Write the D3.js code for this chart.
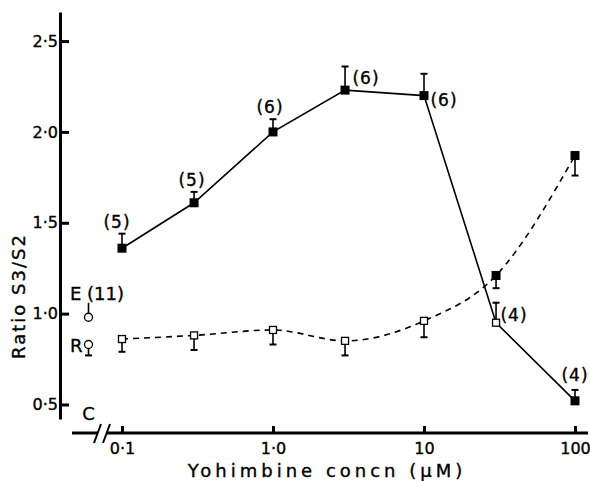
<!DOCTYPE html>
<html>
<head>
<meta charset="utf-8">
<script src="https://cdn.jsdelivr.net/npm/d3@7"></script>
<style>
  body { margin: 0; background: #fff; }
  text { font-family: "DejaVu Sans", sans-serif; fill: #000; stroke: #000; stroke-width: 0.35px; }
</style>
</head>
<body>
<svg id="chart"></svg>
<script>
// yohimbine concentration (µM)
const concn = [0.1, 0.3, 1, 3, 10, 30, 100];

// solid line series
const solidVals = [1.36, 1.61, 2.00, 2.23, 2.20, 0.95, 0.52];
const solidErr  = [0.08, 0.06, 0.07, 0.13, 0.12, 0.11, 0.06];
const solidFilled = [true, true, true, true, true, false, true];
const solidN = ["(5)", "(5)", "(6)", "(6)", "(6)", "(4)", "(4)"];

// dashed line series (error bars point down)
const dashVals = [0.86, 0.88, 0.91, 0.85, 0.96, 1.21, 1.87];
const dashErr  = [0.07, 0.08, 0.08, 0.08, 0.09, 0.07, 0.11];
const dashFilled = [false, false, false, false, false, true, true];

// controls at the "C" position
const controlPos = 0.06;
const controlNames = ["E", "R"];
const controlVals = [0.98, 0.83];
const controlErr = [0.08, -0.06];

const yTicks = [0.5, 1.0, 1.5, 2.0, 2.5];
const xTicks = [0.1, 1, 10, 100];

const width = 590, height = 481;
const svg = d3.select("#chart").attr("width", width).attr("height", height);

const x = d3.scaleLog().domain([0.1, 100]).range([122, 575]);
const y = d3.scaleLinear().domain([0.42, 2.66]).range([419, 12]);
const axisY = 433;
const fmt = d => d3.format(d >= 10 ? "d" : ".1f")(d).replace(".", "·");

// y axis
const yAxis = d3.axisLeft(y).tickValues(yTicks).tickSizeInner(-9).tickSizeOuter(0).tickPadding(2).tickFormat(fmt);
const yG = svg.append("g").attr("transform", "translate(60,0)").call(yAxis);
yG.select(".domain").attr("stroke-width", 3);
yG.selectAll(".tick line").attr("stroke-width", 3);
yG.selectAll("text").style("font-size", "16px");

// x axis
const xAxis = d3.axisBottom(x).tickValues(xTicks).tickSizeInner(-7).tickSizeOuter(0).tickPadding(10).tickFormat(fmt);
const xG = svg.append("g").attr("transform", `translate(0,${axisY})`).call(xAxis);
xG.select(".domain").remove();
xG.selectAll(".tick line").attr("stroke-width", 3);
xG.selectAll("text").style("font-size", "16px");
// axis line with break
const xl = svg.append("g").attr("stroke", "#000").attr("stroke-width", 3);
xl.append("line").attr("x1", 72).attr("x2", 98).attr("y1", axisY).attr("y2", axisY);
xl.append("line").attr("x1", 106).attr("x2", 588).attr("y1", axisY).attr("y2", axisY);
xl.append("line").attr("x1", 94).attr("y1", axisY + 10).attr("x2", 101).attr("y2", axisY - 9).attr("stroke-width", 2);
xl.append("line").attr("x1", 103).attr("y1", axisY + 10).attr("x2", 110).attr("y2", axisY - 9).attr("stroke-width", 2);
svg.append("text").attr("x", x(controlPos)).attr("y", axisY - 13).attr("text-anchor", "middle")
  .style("font-size", "18px").text("C");

// titles
svg.append("text").attr("x", 327).attr("y", 477).attr("text-anchor", "middle")
  .style("font-size", "18px").style("letter-spacing", "4px").text("Yohimbine  concn (μM)");
svg.append("text").attr("transform", "translate(25,296) rotate(-90)").attr("text-anchor", "middle")
  .style("font-size", "18px").style("letter-spacing", "2px").text("Ratio S3/S2");

// lines
const solidData = concn.map((c, i) => ({c, v: solidVals[i], e: solidErr[i], f: solidFilled[i], n: solidN[i]}));
const dashData = concn.map((c, i) => ({c, v: dashVals[i], e: -dashErr[i], f: dashFilled[i]}));

svg.append("path").datum(solidData)
  .attr("d", d3.line().x(d => x(d.c)).y(d => y(d.v)))
  .attr("fill", "none").attr("stroke", "#000").attr("stroke-width", 1.6);
svg.append("path").datum(dashData)
  .attr("d", d3.line().curve(d3.curveMonotoneX).x(d => x(d.c)).y(d => y(d.v)))
  .attr("fill", "none").attr("stroke", "#000").attr("stroke-width", 1.6).attr("stroke-dasharray", "6,5");

// error bars + markers
function drawPoints(data) {
  const g = svg.append("g");
  const eb = g.selectAll(".err").data(data).join("g");
  eb.append("line").attr("x1", d => x(d.c)).attr("x2", d => x(d.c))
    .attr("y1", d => y(d.v)).attr("y2", d => y(d.v + d.e)).attr("stroke", "#000").attr("stroke-width", 1.6);
  eb.append("line").attr("x1", d => x(d.c) - 3.5).attr("x2", d => x(d.c) + 3.5)
    .attr("y1", d => y(d.v + d.e)).attr("y2", d => y(d.v + d.e)).attr("stroke", "#000").attr("stroke-width", 2);
  g.selectAll(".pt").data(data).join("rect")
    .attr("x", d => x(d.c) - (d.f ? 4.5 : 3.5)).attr("y", d => y(d.v) - (d.f ? 4.5 : 3.5))
    .attr("width", d => d.f ? 9 : 7).attr("height", d => d.f ? 9 : 7)
    .attr("fill", d => d.f ? "#000" : "#fff").attr("stroke", "#000").attr("stroke-width", d => d.f ? 0 : 1.3);
}
drawPoints(solidData);
drawPoints(dashData);

// n labels
const labelPos = [[-5, -20], [-2, -17], [-3, -19], [21, -6], [20, 10], [18, -2], [0, -20]];
svg.selectAll(".nlab").data(solidData).join("text")
  .attr("x", (d, i) => x(d.c) + labelPos[i][0]).attr("y", (d, i) => y(d.v) + labelPos[i][1])
  .attr("text-anchor", "middle").style("font-size", "17px").style("letter-spacing", "1px").text(d => d.n);

// controls
const ctrl = controlNames.map((n, i) => ({n, v: controlVals[i], e: controlErr[i]}));
const cg = svg.append("g");
cg.selectAll("line").data(ctrl).join("line")
  .attr("x1", x(controlPos)).attr("x2", x(controlPos))
  .attr("y1", d => y(d.v) - (d.e > 0 ? 4 : -4)).attr("y2", d => y(d.v + d.e))
  .attr("stroke", "#000").attr("stroke-width", 1.6);
cg.selectAll(".cap").data(ctrl.filter(d => d.e < 0)).join("line")
  .attr("x1", x(controlPos) - 3.5).attr("x2", x(controlPos) + 3.5)
  .attr("y1", d => y(d.v + d.e)).attr("y2", d => y(d.v + d.e)).attr("stroke", "#000").attr("stroke-width", 2);
cg.selectAll("circle").data(ctrl).join("circle")
  .attr("cx", x(controlPos)).attr("cy", d => y(d.v)).attr("r", 4)
  .attr("fill", "#fff").attr("stroke", "#000").attr("stroke-width", 1.3);
svg.append("text").attr("x", 70).attr("y", y(controlVals[0]) - 17).style("font-size", "18px").text("E (11)");
svg.append("text").attr("x", 70).attr("y", y(controlVals[1]) + 7).style("font-size", "18px").text("R");
</script>
</body>
</html>
